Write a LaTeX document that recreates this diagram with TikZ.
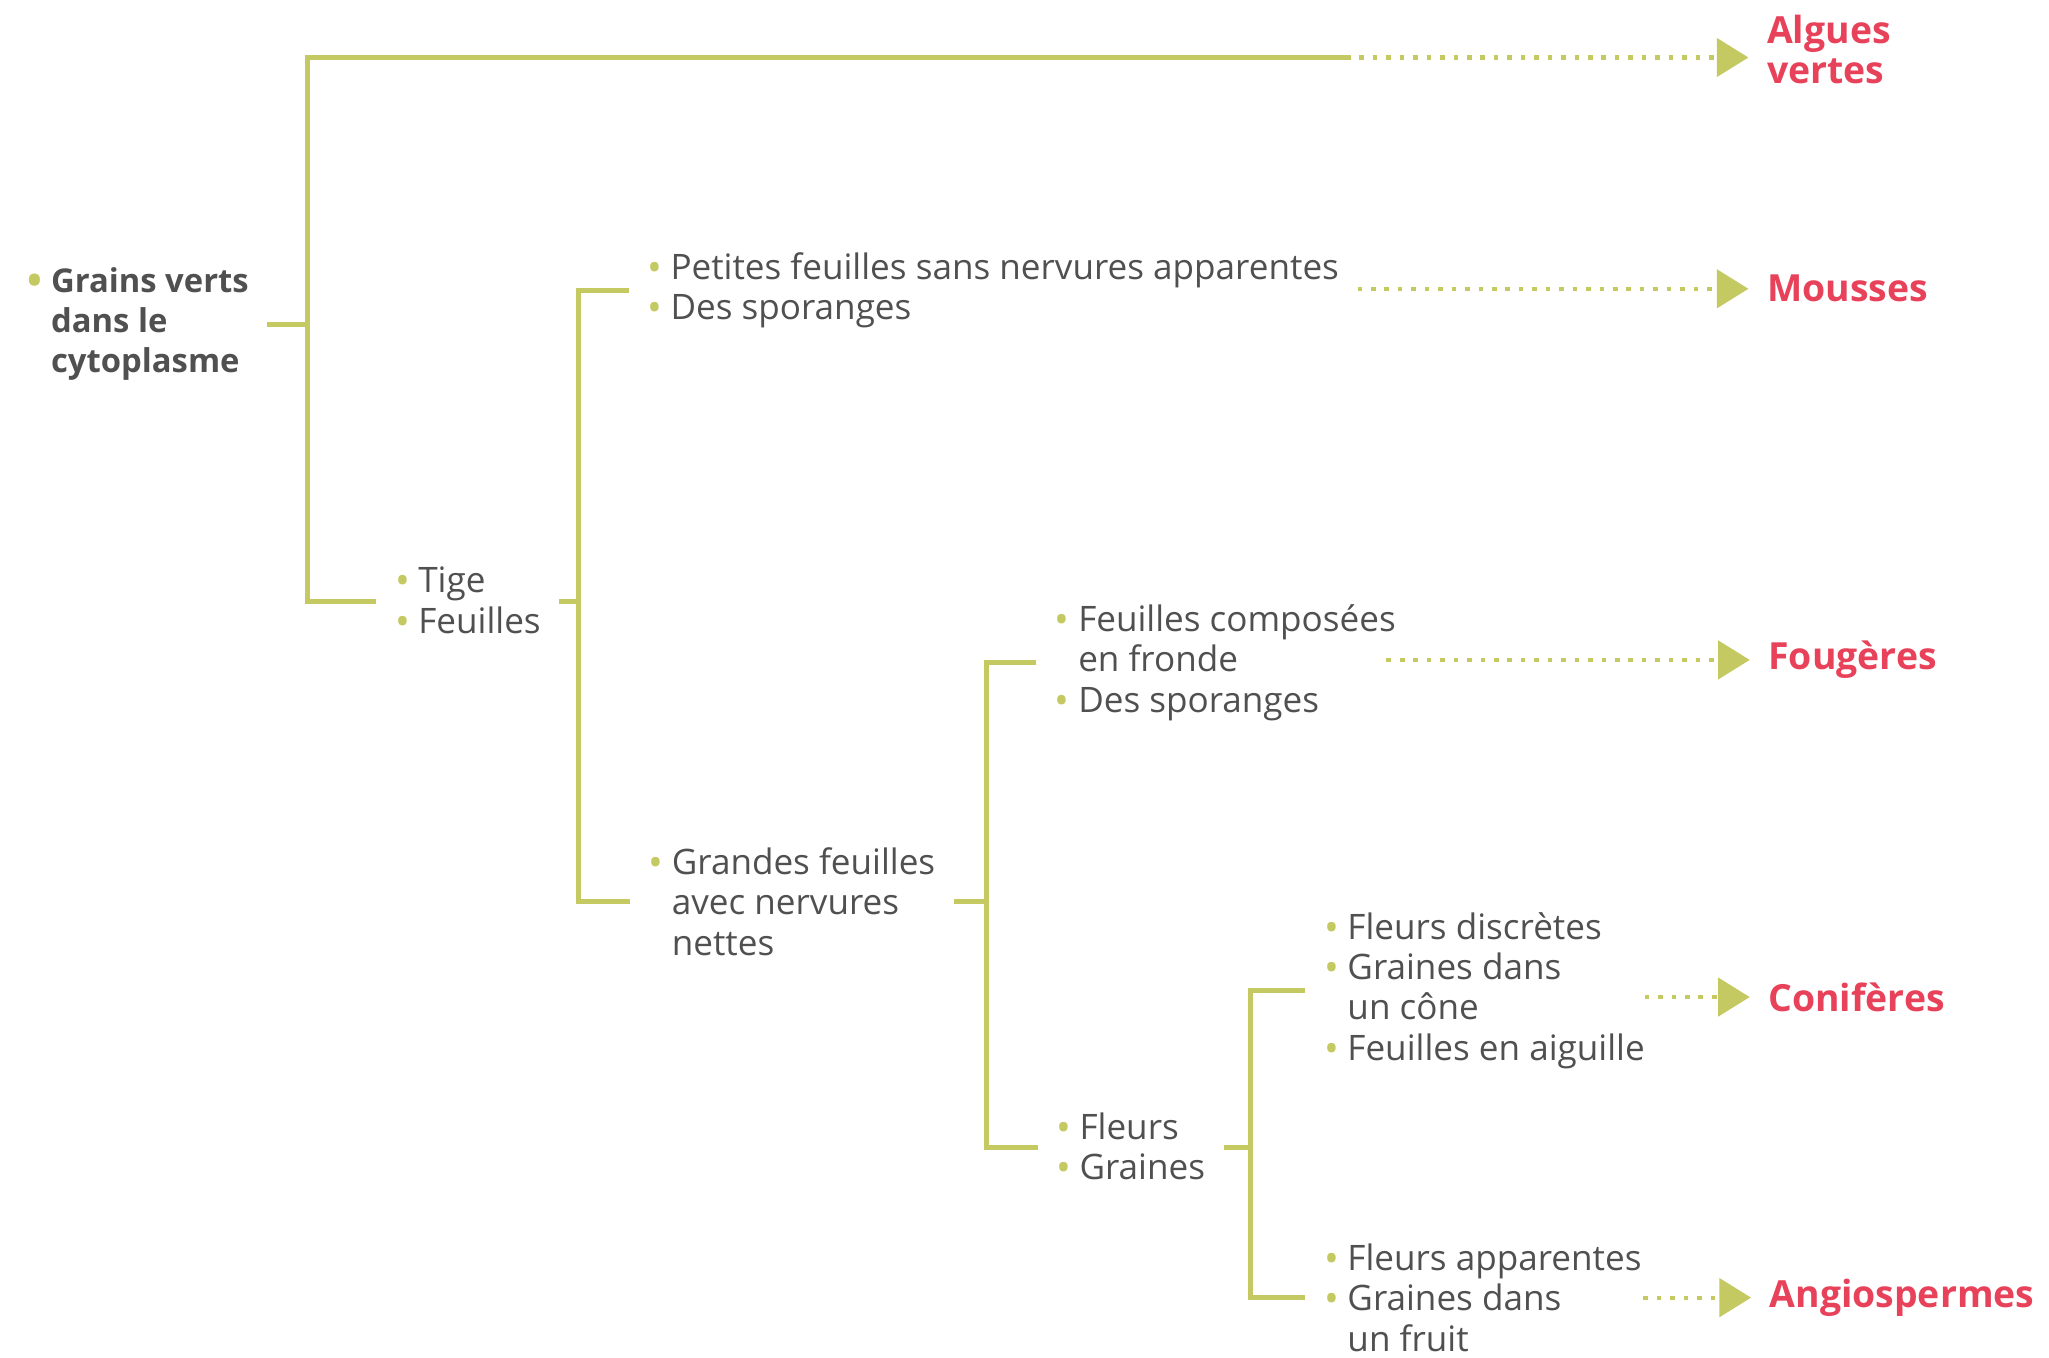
\documentclass[tikz,border=0pt]{standalone}
\usepackage{fontspec}
\setmainfont{Open Sans}
\usetikzlibrary{arrows.meta}
\definecolor{lineol}{RGB}{197,201,98}
\definecolor{txtgrey}{RGB}{80,80,80}
\definecolor{grpred}{RGB}{232,66,90}
\newcommand{\bul}{\makebox[0.25cm][l]{\color{lineol}\fontsize{12}{12}\selectfont\raisebox{-0.6pt}{\textbullet}}}
\newcommand{\ind}{\hspace*{0.25cm}}

\begin{document}
\begin{tikzpicture}[x=0.014cm,y=-0.014cm]
    \tikzstyle{trait}=[anchor=west,align=left,inner sep=0pt,outer xsep=0.2cm,text=txtgrey,font=\fontsize{10.7}{12.3}\selectfont]
    \tikzstyle{groupe}=[trait,text=grpred,font=\fontsize{11.4}{12.3}\selectfont\bfseries]
    \tikzstyle{branch}=[draw=lineol,line width=1.5pt]
    \tikzstyle{dotarrow}=[draw=lineol,line width=1.3pt,dash pattern=on 1.4pt off 2.7pt,-{Triangle[length=0.34cm,width=0.41cm,fill=lineol]}]

    \useasboundingbox (0,0) rectangle (1568,1039);

    % descriptions
    \node(grains) [trait,font=\fontsize{10}{12.3}\selectfont\bfseries] at (7,248) {\bul Grains verts\\\ind dans le\\\ind cytoplasme};
    \node(tige) [trait] at (288,460) {\bul Tige\\\bul Feuilles};
    \node(petites) [trait] at (481,222) {\bul Petites feuilles sans nervures apparentes\\\bul Des sporanges};
    \node(grandes) [trait] at (482,690) {\bul Grandes feuilles\\\ind avec nervures\\\ind nettes};
    \node(fern) [trait] at (793,507) {\bul Feuilles composées\\\ind en fronde\\\bul Des sporanges};
    \node(fleurs) [trait] at (794,878) {\bul Fleurs\\\bul Graines};
    \node(cone) [trait] at (999,758) {\bul Fleurs discrètes\\\bul Graines dans\\\ind un cône\\\bul Feuilles en aiguille};
    \node(fruit) [trait] at (999,993) {\bul Fleurs apparentes\\\bul Graines dans\\\ind un fruit};

    % groupes
    \node(algues) [groupe] at (1338,38) {Algues\\vertes};
    \node(mousses) [groupe] at (1338,221) {Mousses};
    \node(fougeres) [groupe] at (1339,505) {Fougères};
    \node(coniferes) [groupe] at (1339,763) {Conifères};
    \node(angio) [groupe] at (1340,993) {Angiospermes};

    \coordinate (v1) at (235,0);
    \coordinate (v2) at (443,0);
    \coordinate (v3) at (755,0);
    \coordinate (v4) at (957,0);
    \coordinate (algend) at (1030,44);

    \draw [branch] (grains.east) -- (grains.east -| v1);
    \draw [branch] (algend) -- (algend -| v1) -- (tige.west -| v1) -- (tige.west);
    \draw [branch] (tige.east) -- (tige.east -| v2);
    \draw [branch] (petites.west) -- (petites.west -| v2) -- (grandes.west -| v2) -- (grandes.west);
    \draw [branch] (grandes.east) -- (grandes.east -| v3);
    \draw [branch] (fern.west) -- (fern.west -| v3) -- (fleurs.west -| v3) -- (fleurs.west);
    \draw [branch] (fleurs.east) -- (fleurs.east -| v4);
    \draw [branch] (cone.west) -- (cone.west -| v4) -- (fruit.west -| v4) -- (fruit.west);

    \draw [dotarrow] (algend) -- (algend -| algues.west);
    \draw [dotarrow] (petites.east |- mousses.west) -- (mousses.west);
    \draw [dotarrow] ([xshift=-0.3cm]fern.east |- fougeres.west) -- (fougeres.west);
    \draw [dotarrow] ([xshift=-0.2cm]cone.east |- coniferes.west) -- (coniferes.west);
    \draw [dotarrow] ([xshift=-0.18cm]fruit.east |- angio.west) -- (angio.west);

\end{tikzpicture}
\end{document}
